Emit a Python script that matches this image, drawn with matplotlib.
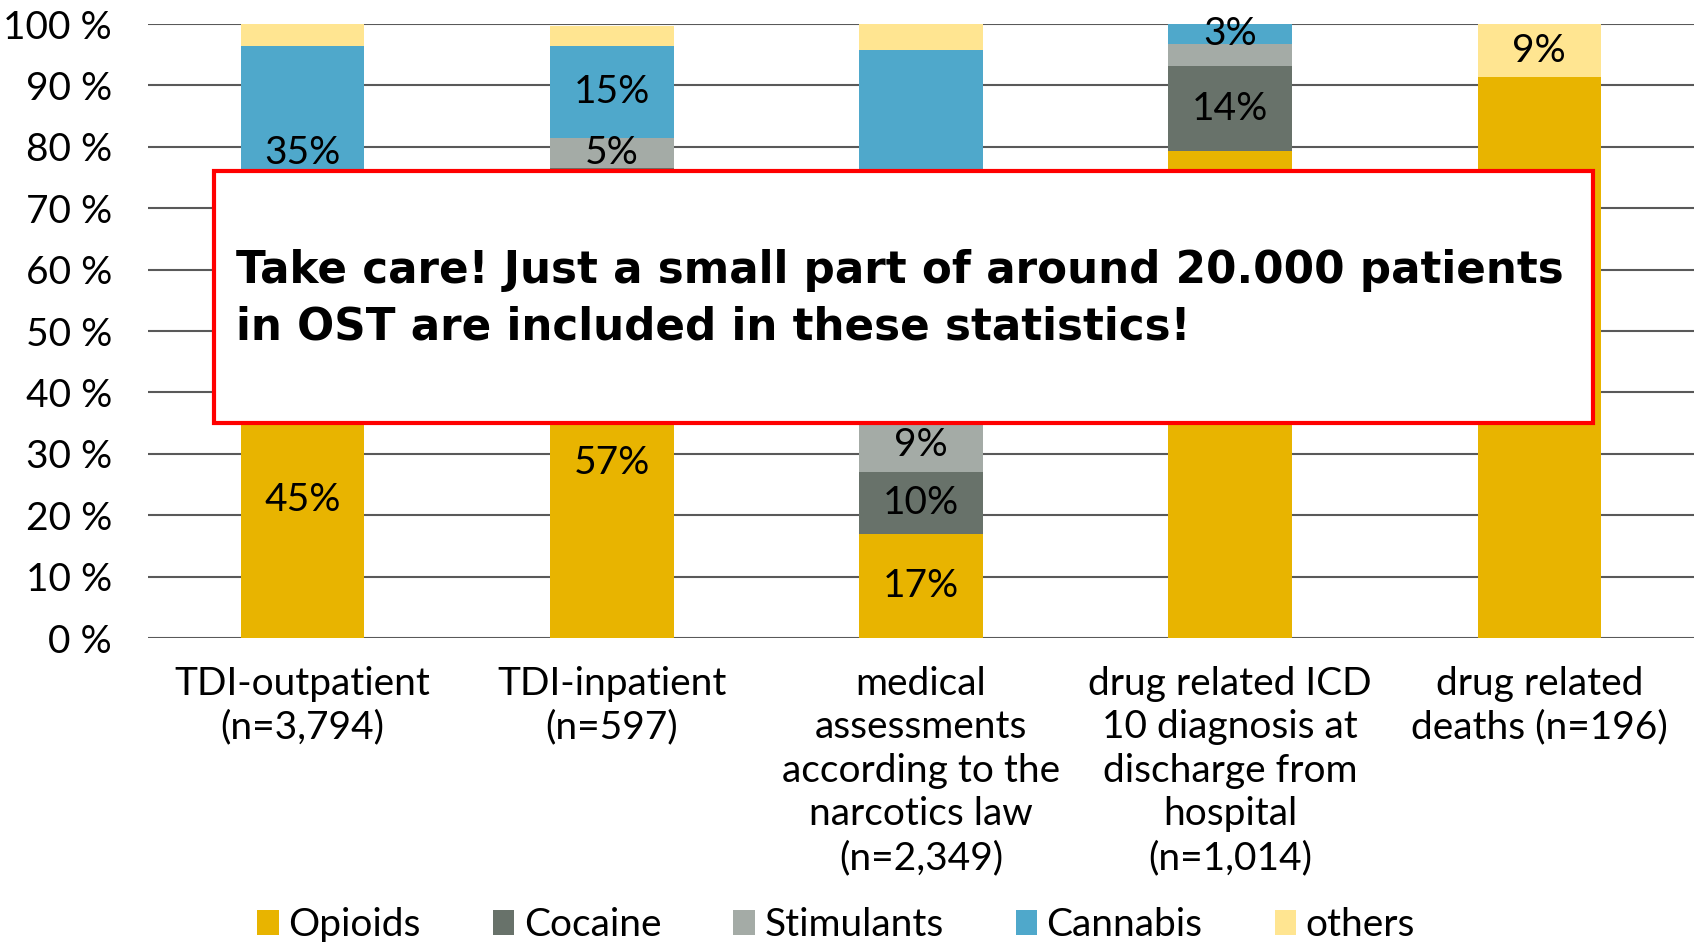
import matplotlib
matplotlib.use("Agg")
import matplotlib.pyplot as plt
from matplotlib.patches import Rectangle, Patch
import numpy as np

plt.rcParams['font.family'] = ['Lato', 'DejaVu Sans']

# categories (x axis)
categories = ["TDI-outpatient\n(n=3,794)",
              "TDI-inpatient\n(n=597)",
              "medical\nassessments\naccording to the\nnarcotics law\n(n=2,349)",
              "drug related ICD\n10 diagnosis at\ndischarge from\nhospital\n(n=1,014)",
              "drug related\ndeaths (n=196)"]

# shares in percent (parts hidden behind the box are estimates)
opioids    = [45.0, 57.0, 17.0, 79.3, 91.3]
cocaine    = [7.0, 19.5, 10.0, 13.8, 0.0]
stimulants = [9.5, 5.0, 9.0, 3.7, 0.0]
cannabis   = [35.0, 15.0, 59.8, 3.2, 0.0]
others     = [3.5, 3.2, 4.2, 0.0, 8.7]

# labels printed on the segments
opioids_lbl    = ["45%", "57%", "17%", "79%", ""]
cocaine_lbl    = ["", "", "10%", "14%", ""]
stimulants_lbl = ["", "5%", "9%", "", ""]
cannabis_lbl   = ["35%", "15%", "60%", "3%", ""]
others_lbl     = ["", "", "", "", "9%"]

series = ["Opioids", "Cocaine", "Stimulants", "Cannabis", "others"]
colors = ["#E8B400", "#68726A", "#A4ABA6", "#4FA8CB", "#FFE591"]

fig = plt.figure(figsize=(16.96, 9.42), dpi=100)
ax = fig.add_axes([0.0873, 0.3227, 0.9115, 0.6518])

x = np.arange(len(categories))
bottom = np.zeros(len(categories))
for vals, lbls, col in zip([opioids, cocaine, stimulants, cannabis, others],
                           [opioids_lbl, cocaine_lbl, stimulants_lbl, cannabis_lbl, others_lbl],
                           colors):
    vals = np.array(vals)
    ax.bar(x, vals, 0.4, bottom=bottom, color=col, zorder=2)
    for xi, b, v, l in zip(x, bottom, vals, lbls):
        if l:
            ax.text(xi, b + v / 2, l, ha='center', va='center', fontsize=28, zorder=3)
    bottom += vals

ax.set_xlim(-0.5, len(categories) - 0.5)
ax.set_ylim(0, 100)
ax.set_yticks(range(0, 101, 10))
ax.set_yticklabels([f"{v} %" for v in range(0, 101, 10)], fontsize=28)
ax.set_xticks(x)
ax.set_xticklabels(categories, fontsize=28, linespacing=1.26)
ax.tick_params(length=0)
ax.tick_params(axis='y', pad=26)
ax.tick_params(axis='x', pad=20)
ax.grid(axis='y', color='#595959', linewidth=1.5, zorder=0)
for s in ax.spines.values():
    s.set_visible(False)

# notice box
ax.add_patch(Rectangle((-0.286, 35.0), 4.459, 41.0, facecolor='white',
                       edgecolor='#FF0000', linewidth=3, zorder=5))
ax.text(-0.215, 55.2,
        "Take care! Just a small part of around 20.000 patients\nin OST are included in these statistics!",
        fontsize=31.4, fontweight='bold', family='DejaVu Sans', ha='left', va='center',
        linespacing=1.4, zorder=6)

handles = [Patch(facecolor=c, label=s) for s, c in zip(series, colors)]
fig.legend(handles=handles, loc='center', bbox_to_anchor=(0.493, 0.018), ncol=5,
           frameon=False, fontsize=28, handlelength=0.55, handleheight=0.6,
           handletextpad=0.25, columnspacing=1.85)

fig.savefig("out.png", dpi=100)
